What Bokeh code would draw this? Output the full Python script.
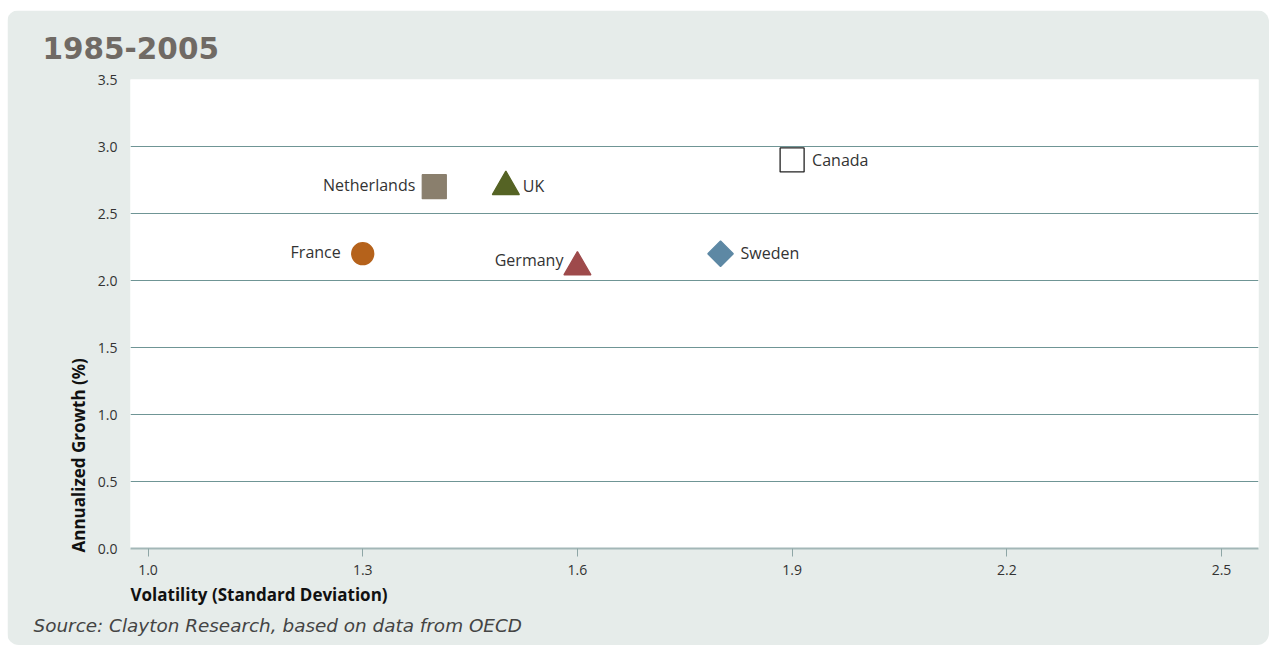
import numpy as np
from bokeh.plotting import figure
from bokeh.models import ColumnDataSource, FixedTicker, NumeralTickFormatter, Title
from bokeh.core.properties import value
from bokeh.embed import file_html
from bokeh.resources import INLINE

# ---- data ----
countries = ["Netherlands", "UK", "Canada", "France", "Germany", "Sweden"]
volatility = [1.4, 1.5, 1.9, 1.3, 1.6, 1.8]
growth = [2.7, 2.7, 2.9, 2.2, 2.1, 2.2]
x_ticks = [1.0, 1.3, 1.6, 1.9, 2.2, 2.5]
y_ticks = [0.0, 0.5, 1.0, 1.5, 2.0, 2.5, 3.0, 3.5]

# ---- styles ----
markers = ["square", "triangle", "square", "circle", "triangle", "square"]
fills = ["#8a7f6d", "#556324", "#ffffff", "#b5621b", "#9e4a4b", "#5d88a4"]
lines = ["#8a7f6d", "#556324", "#222222", "#b5621b", "#9e4a4b", "#5d88a4"]
sizes = [24, 27, 24, 22, 27, 18]
angles = [0, 0, 0, 0, 0, np.pi / 4]
lab_dx = [-19, 17, 20, -22, -14, 20]
lab_dy = [-2, -1, 0, -2, -7, -1]
lab_align = ["right", "left", "left", "right", "right", "left"]

FONT = "Open Sans"
PANEL = "#e6ecea"

p = figure(width=1262, height=635, output_backend="svg", toolbar_location=None,
           x_range=(0.9755, 2.5517), y_range=(0, 3.5),
           min_border_left=123, min_border_right=11, min_border_top=69, min_border_bottom=97,
           background_fill_color="white", border_fill_color=PANEL, outline_line_color=None,
           styles={"border-radius": "12px", "overflow": "hidden",
                   "margin-left": "7px", "margin-top": "10px"})

src = ColumnDataSource(dict(x=volatility, y=growth, name=countries, marker=markers,
                            fill=fills, line=lines, size=sizes, angle=angles,
                            dx=lab_dx, dy=lab_dy, align=lab_align))

p.scatter("x", "y", source=src, marker="marker", size="size", angle="angle",
          fill_color="fill", line_color="line", line_width=1.3)
p.text("x", "y", text="name", source=src, x_offset="dx", y_offset="dy",
       text_align="align", text_baseline="middle", text_font=value(FONT),
       text_font_size="16px", text_color="#333333")

# grid
p.xgrid.grid_line_color = None
p.ygrid.ticker = FixedTicker(ticks=y_ticks)
p.ygrid.grid_line_color = "#6f9595"
p.ygrid.grid_line_width = 1

# x axis
p.xaxis.ticker = FixedTicker(ticks=x_ticks)
p.xaxis.formatter = NumeralTickFormatter(format="0.0")
p.xaxis.axis_line_color = "#a3b7b7"
p.xaxis.axis_line_width = 2
p.xaxis.major_tick_line_color = "#8ea6a6"
p.xaxis.major_tick_out = 8
p.xaxis.major_tick_in = 0
p.xaxis.minor_tick_line_color = None
p.xaxis.major_label_standoff = 8
p.xaxis.major_label_text_font = FONT
p.xaxis.major_label_text_font_size = "14px"
p.xaxis.major_label_text_color = "#333333"

# y axis
p.yaxis.ticker = FixedTicker(ticks=y_ticks)
p.yaxis.formatter = NumeralTickFormatter(format="0.0")
p.yaxis.axis_line_color = None
p.yaxis.major_tick_line_color = None
p.yaxis.minor_tick_line_color = None
p.yaxis.major_tick_out = 0
p.yaxis.major_label_standoff = 13
p.yaxis.major_label_text_font = FONT
p.yaxis.major_label_text_font_size = "14px"
p.yaxis.major_label_text_color = "#333333"

# axis titles and headings (as Titles so they align to the frame)
p.add_layout(Title(text="Volatility (Standard Deviation)", align="left", offset=0, standoff=6,
                   text_font=FONT, text_font_style="bold", text_font_size="17px",
                   text_color="#111111"), "below")
p.add_layout(Title(text="Source: Clayton Research, based on data from OECD", align="left",
                   offset=-97, standoff=9, text_font="DejaVu Sans", text_font_style="italic",
                   text_font_size="18.4px", text_color="#444444"), "below")
p.add_layout(Title(text="Annualized Growth (%)", align="left", offset=-4, standoff=9,
                   text_font=FONT, text_font_style="bold", text_font_size="17px",
                   text_color="#111111"), "left")
p.add_layout(Title(text="1985-2005", align="left", offset=-88, standoff=42,
                   text_font="DejaVu Sans", text_font_style="bold", text_font_size="29.5px",
                   text_color="#706a64"), "above")

open("out.html", "w").write(file_html(p, INLINE))
